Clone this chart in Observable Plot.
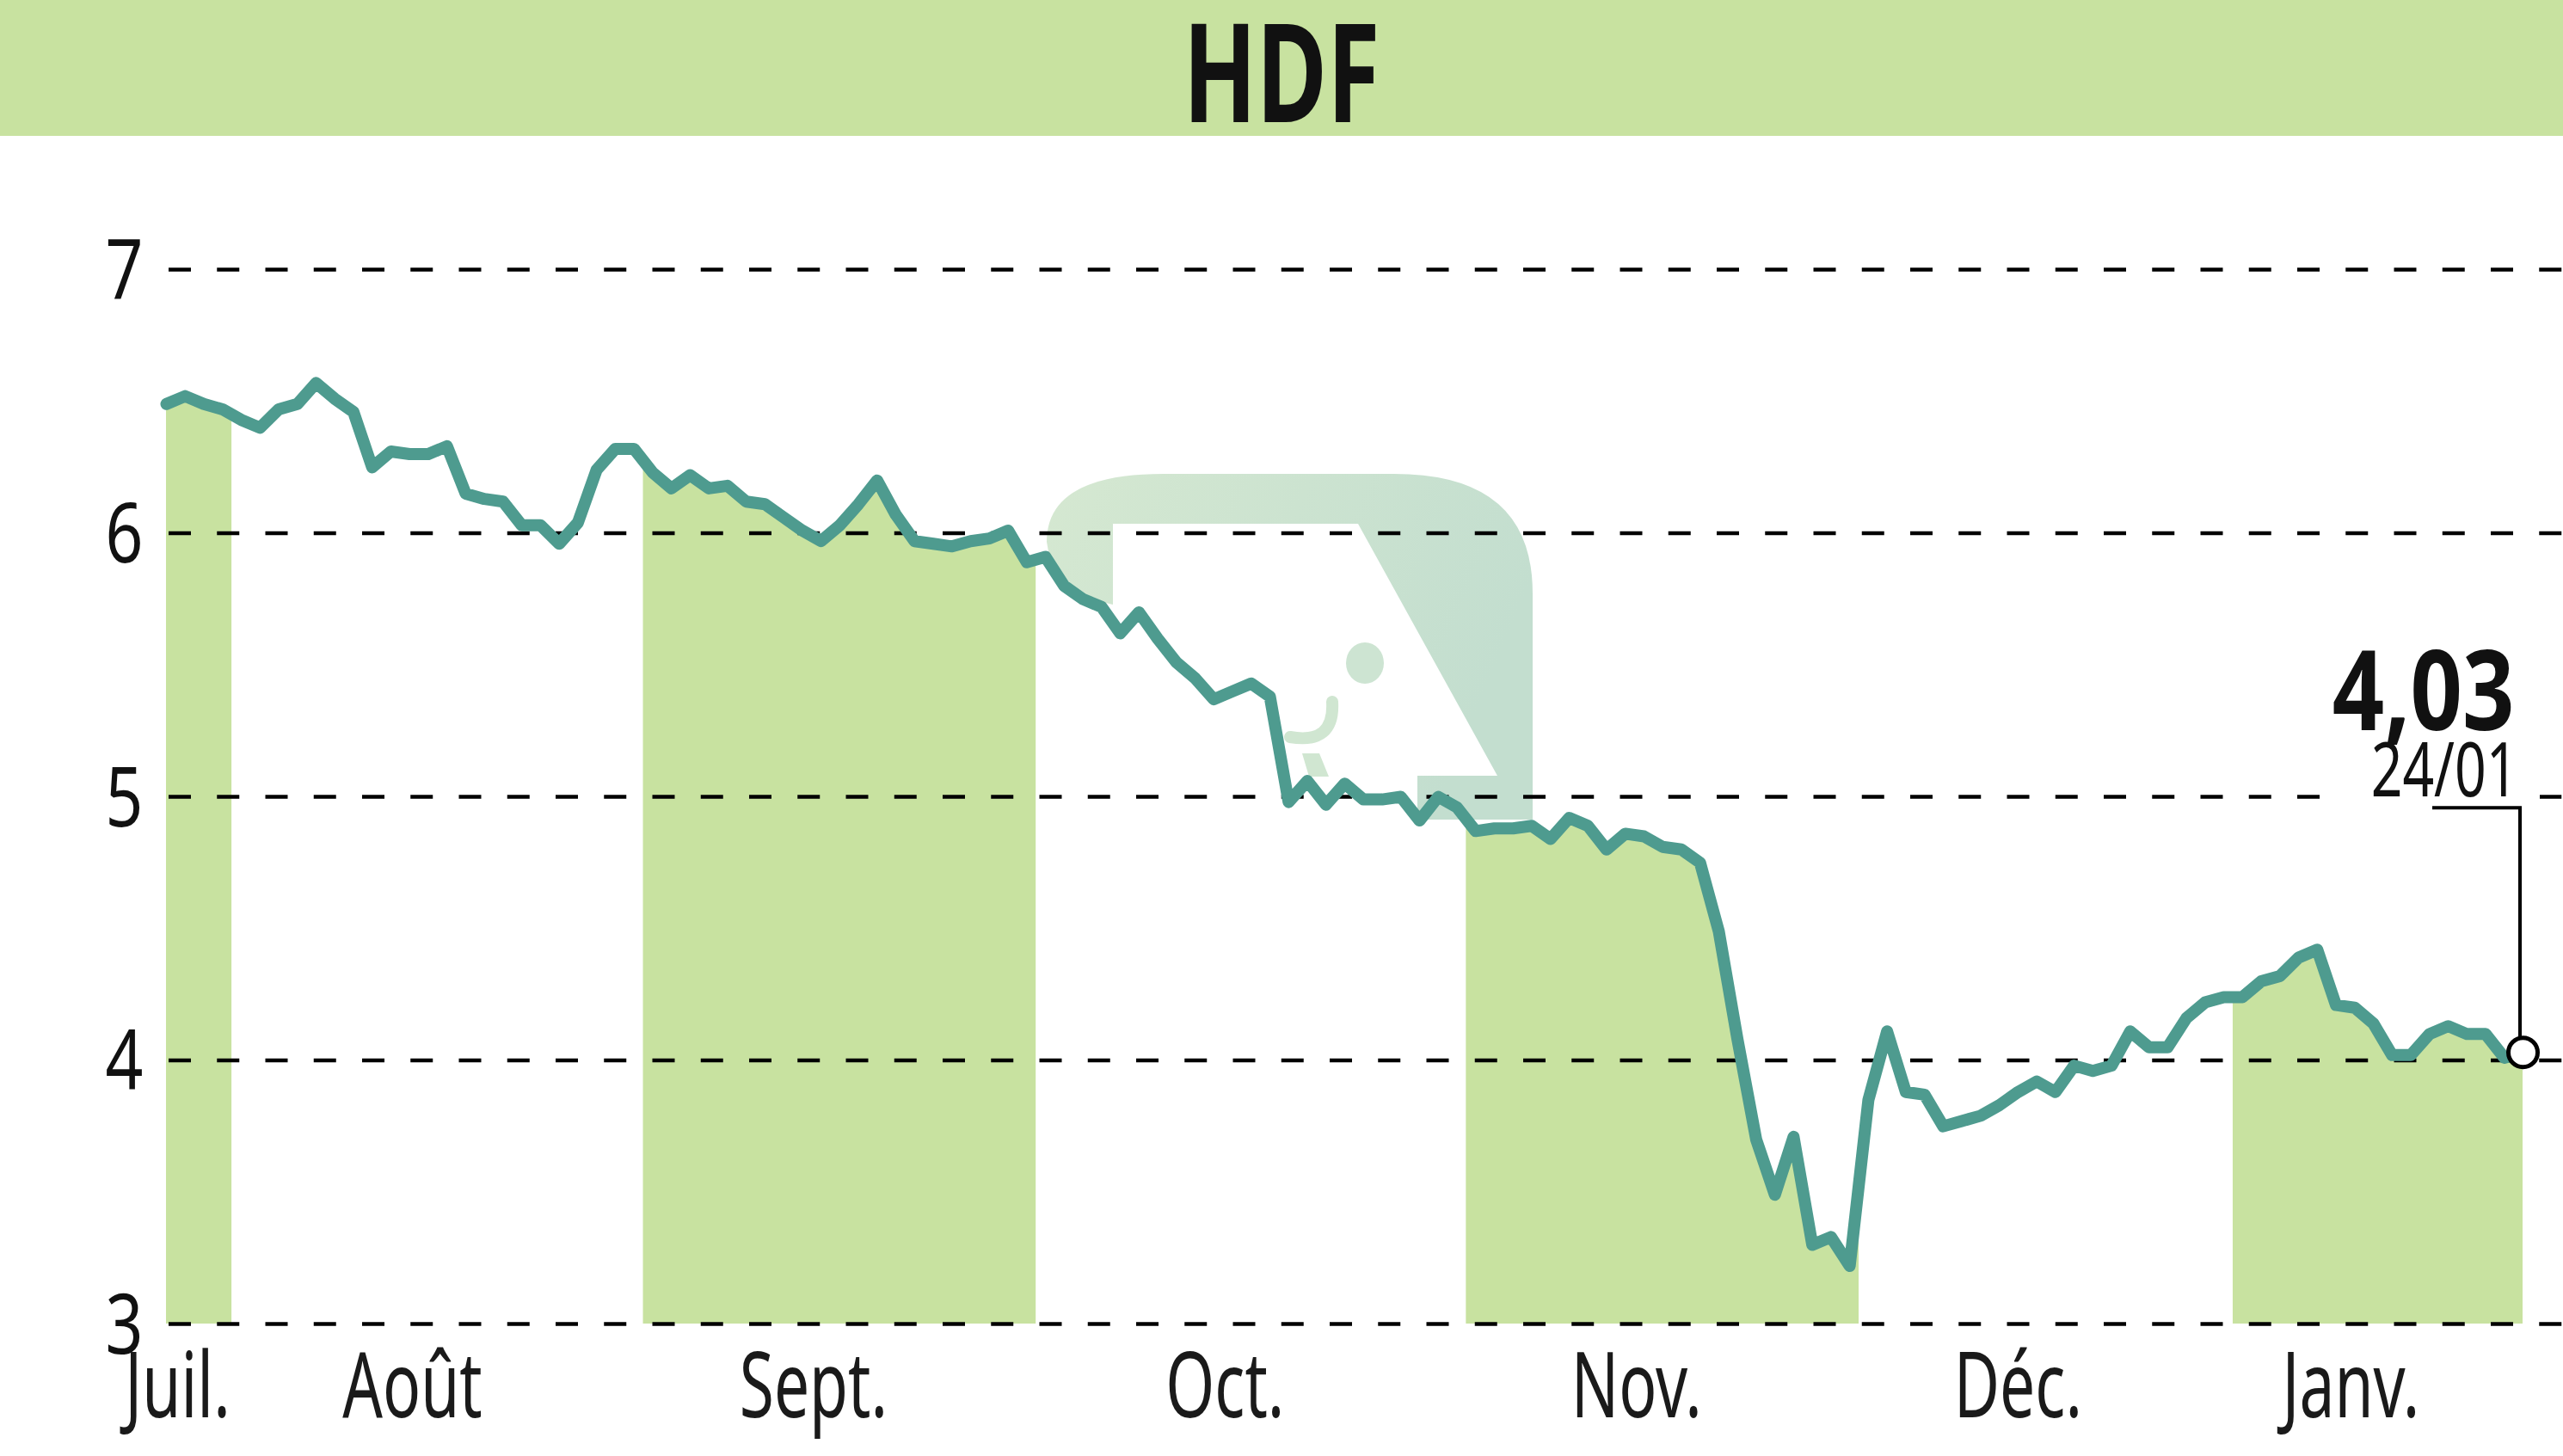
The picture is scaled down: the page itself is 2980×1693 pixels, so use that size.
<!DOCTYPE html>
<html><head><meta charset="utf-8">
<script src="https://cdn.jsdelivr.net/npm/d3@7"></script>
<script src="https://cdn.jsdelivr.net/npm/@observablehq/plot@0.6"></script>
<style>
html,body{margin:0;padding:0;background:#fff;}
#wrap{width:2980px;height:1693px;position:relative;overflow:hidden;background:#fff;}
#title{height:158px;background:#c8e2a0;position:relative;}
#title span{position:absolute;left:50%;top:0;font-family:"Noto Sans";font-weight:700;font-size:160px;line-height:160px;color:#111;transform:translateX(-50%) scaleX(0.7);white-space:nowrap;}
#chart svg{display:block;}
</style></head><body>
<div id="wrap"><div id="title"><span id="ttl"></span></div><div id="chart"></div></div>
<script>
const title = "HDF";
const monthNames = ["Juil.", "Août", "Sept.", "Oct.", "Nov.", "Déc.", "Janv."];
const monthLabelPos = [0.6, 13.15, 34.6, 56.6, 78.6, 99.0, 116.8];
const yTicks = [3, 4, 5, 6, 7];
const lastDate = "24/01";

const julValues = [6.49, 6.52, 6.49, 6.47];
const augValues = [6.43, 6.40, 6.47, 6.49, 6.57, 6.51, 6.46, 6.25, 6.31, 6.30, 6.30, 6.33, 6.15, 6.13, 6.12, 6.03, 6.03, 5.96, 6.04, 6.24, 6.32, 6.32];
const sepValues = [6.23, 6.17, 6.22, 6.17, 6.18, 6.12, 6.11, 6.06, 6.01, 5.97, 6.03, 6.11, 6.20, 6.07, 5.97, 5.96, 5.95, 5.97, 5.98, 6.01, 5.89];
const octValues = [5.91, 5.80, 5.75, 5.72, 5.62, 5.70, 5.60, 5.51, 5.45, 5.37, 5.40, 5.43, 5.38, 4.98, 5.06, 4.97, 5.05, 4.99, 4.99, 5.00, 4.91, 5.00, 4.96];
const novValues = [4.87, 4.88, 4.88, 4.89, 4.84, 4.92, 4.89, 4.80, 4.86, 4.85, 4.81, 4.80, 4.75, 4.49, 4.08, 3.70, 3.49, 3.71, 3.30, 3.33, 3.22];
const decValues = [3.85, 4.11, 3.88, 3.87, 3.75, 3.77, 3.79, 3.83, 3.88, 3.92, 3.88, 3.98, 3.96, 3.98, 4.11, 4.05, 4.05, 4.16, 4.22, 4.24];
const janValues = [4.24, 4.30, 4.32, 4.39, 4.42, 4.21, 4.20, 4.14, 4.02, 4.02, 4.10, 4.13, 4.10, 4.10, 4.01, 4.03];

document.getElementById("ttl").textContent = title;

const months = [julValues, augValues, sepValues, octValues, novValues, decValues, janValues];
const data = [];
const bounds = [];
months.forEach((vals, m) => {
  const start = data.length;
  vals.forEach(v => data.push({m, v, j: data.length}));
  bounds.push({m, start, end: data.length - 1});
});
const N = data.length;
const masks = bounds.filter(b => b.m % 2 === 1).map(b => ({x1: b.start - 0.5, x2: b.end + 0.5}));
const last = data[N - 1];
const fmt = v => v.toFixed(2).replace(".", ",");

const W = 2980, H = 1535;
const FONT = "Noto Sans";
const plot = Plot.plot({
  width: W, height: H,
  marginLeft: 196, marginRight: 0, marginTop: 0, marginBottom: 0,
  x: {domain: [0, N - 1], range: [193, 2933], axis: null},
  y: {domain: [yTicks[0], yTicks[yTicks.length - 1]], range: [1381, 155], axis: null},
  style: {background: "transparent", overflow: "visible"},
  marks: [
    Plot.areaY(data, {x: "j", y1: () => yTicks[0], y2: "v", fill: "#c8e2a0"}),
    Plot.rect(masks, {x1: "x1", x2: "x2", fill: "white"}),
    Plot.ruleY(yTicks, {stroke: "#000", strokeWidth: 4.6, strokeDasharray: "26,30.25"}),
    Plot.text(yTicks, {y: d => d, text: d => String(d), frameAnchor: "left", textAnchor: "end", lineAnchor: "bottom", dx: -30, dy: 34, fontSize: 96, fontFamily: FONT, fill: "#111"}),
    Plot.text(monthNames, {x: (d, i) => monthLabelPos[i], text: d => d, frameAnchor: "bottom", textAnchor: "middle", lineAnchor: "bottom", dy: -46, fontSize: 106, fontFamily: FONT, fill: "#1a1a1a"}),
    Plot.line(data, {x: "j", y: "v", stroke: "#4e9b8f", strokeWidth: 14}),
    Plot.dot([last], {x: "j", y: "v", r: 17, fill: "white", stroke: "#000", strokeWidth: 5}),
    Plot.text([last], {x: "j", y: "v", text: d => fmt(d.v), textAnchor: "end", lineAnchor: "bottom", dx: -10, dy: -375, fontSize: 129, fontWeight: "bold", fontFamily: FONT, fill: "#111"}),
    Plot.text([last], {x: "j", y: "v", text: () => lastDate, textAnchor: "end", lineAnchor: "bottom", dx: -6, dy: -298, fontSize: 88, fontFamily: FONT, fill: "#111"})
  ]
});
document.getElementById("chart").appendChild(plot);

// condensed look for text
const squeeze = [0.8, 0.69, 0.82, 0.73];
plot.querySelectorAll('g[aria-label="text"]').forEach((g, k) => {
  g.querySelectorAll("text").forEach(t => {
    const tr = t.getAttribute("transform") || "";
    t.setAttribute("transform", tr + ` scale(${squeeze[k]},1)`);
  });
});

// watermark logo (decoration), placed under the grid
const ruleG = plot.querySelector('g[aria-label="rule"]');
const logo = d3.create("svg:g").attr("transform", "translate(0,-158)");
const defs = logo.append("defs");
const grad = defs.append("linearGradient").attr("id", "lg").attr("x1", "0").attr("x2", "1").attr("y1", "0").attr("y2", "0.3");
grad.append("stop").attr("offset", "0").attr("stop-color", "#d5e8d1");
grad.append("stop").attr("offset", "1").attr("stop-color", "#c3decf");
logo.append("path")
  .attr("d", "M1294,703 Q1224,690 1217,630 Q1217,551 1353,551 L1621,551 Q1782,551 1782,690 L1782,953 L1648,953 L1648,902 L1741,902 L1579,609 L1294,609 Z")
  .attr("fill", "url(#lg)");
logo.append("ellipse").attr("cx", 1587).attr("cy", 771).attr("rx", 22).attr("ry", 24).attr("fill", "#cde4d2");
logo.append("path").attr("d", "M1549,816 Q1552,866 1500,857").attr("fill", "none").attr("stroke", "#d0e6d1").attr("stroke-width", 14).attr("stroke-linecap", "round");
logo.append("path").attr("d", "M1514,876 L1534,876 L1545,903 L1522,903 Z").attr("fill", "#d0e6d1");
plot.insertBefore(logo.node(), ruleG);

// annotation box + leader
const px = plot.scale("x").apply(last.j), py = plot.scale("y").apply(last.v);
const dotG = plot.querySelector('g[aria-label="dot"]');
const ann = d3.create("svg:g");
ann.append("rect").attr("x", px - 236).attr("y", py - 484).attr("width", 256).attr("height", 195).attr("fill", "white");
ann.append("path").attr("d", `M${px - 3},${py} V${py - 284} H${px - 105}`).attr("fill", "none").attr("stroke", "#000").attr("stroke-width", 4);
plot.insertBefore(ann.node(), dotG);
</script>
</body></html>
